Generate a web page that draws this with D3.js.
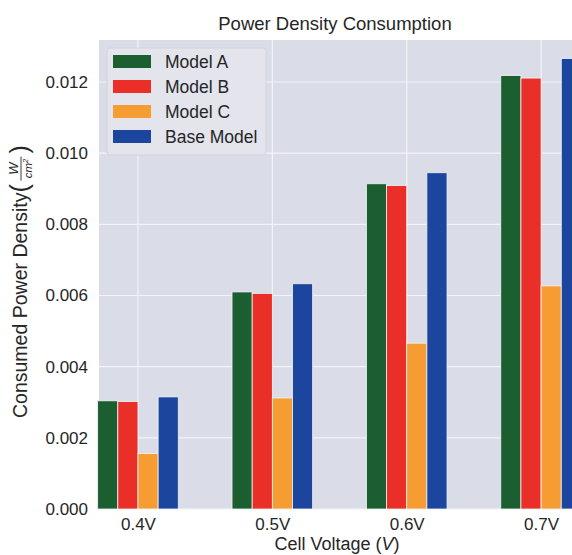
<!DOCTYPE html>
<html>
<head>
<meta charset="utf-8">
<script src="https://cdn.jsdelivr.net/npm/d3@7"></script>
<style>
  body { margin: 0; background: #fff; }
  svg text { font-family: "Liberation Sans", Arial, sans-serif; fill: #262626; }
</style>
</head>
<body>
<div class="visuals"></div>
<script>
// categories and series
const voltages = ["0.4V", "0.5V", "0.6V", "0.7V"];
const seriesNames = ["Model A", "Model B", "Model C", "Base Model"];
const modelA = [0.00304, 0.00610, 0.00914, 0.01218];
const modelB = [0.00302, 0.00606, 0.00909, 0.01211];
const modelC = [0.00156, 0.00312, 0.00466, 0.00627];
const baseModel = [0.00315, 0.00633, 0.00945, 0.01266];
const yTicks = [0, 0.002, 0.004, 0.006, 0.008, 0.010, 0.012];
const colors = ["#1b5e30", "#ea2e28", "#f59c33", "#1c469d"];

const allSeries = [modelA, modelB, modelC, baseModel];

let width = 572;
let height = 555;
const plotLeft = 99, plotTop = 40, plotBottom = 509, plotRight = 572;

const svg = d3.select(".visuals")
  .append("svg")
  .attr("width", width)
  .attr("height", height);

// x: category index -> centre (step ~134.5px, cropped at right edge)
const x = d3.scaleLinear().domain([-0.29, 3.23]).range([plotLeft, plotRight]);
const y = d3.scaleLinear().domain([0, 0.01318]).range([plotBottom, plotTop]);
const barW = x(0.15) - x(0);

svg.append("rect")
  .attr("x", plotLeft).attr("y", plotTop)
  .attr("width", plotRight - plotLeft).attr("height", plotBottom - plotTop)
  .attr("fill", "#dadce7");

// grid
svg.selectAll(".hgrid")
  .data(yTicks)
  .enter().append("line")
  .attr("x1", plotLeft).attr("x2", plotRight)
  .attr("y1", d => y(d)).attr("y2", d => y(d))
  .attr("stroke", "#f4f4f8").attr("stroke-width", 1.2);

svg.selectAll(".vgrid")
  .data(voltages)
  .enter().append("line")
  .attr("x1", (d, i) => x(i)).attr("x2", (d, i) => x(i))
  .attr("y1", plotTop).attr("y2", plotBottom)
  .attr("stroke", "#f4f4f8").attr("stroke-width", 1.2);

// bars
allSeries.forEach((vals, s) => {
  svg.selectAll(".bar" + s)
    .data(vals)
    .enter().append("rect")
    .attr("x", (d, i) => x(i) + (s - 2) * barW)
    .attr("y", d => y(d))
    .attr("width", barW)
    .attr("height", d => plotBottom - y(d))
    .attr("fill", colors[s])
    .attr("stroke", "#f4f4f8")
    .attr("stroke-width", 0.8);
});

// axes (no tick lines, seaborn style)
const yAxis = svg.append("g")
  .attr("transform", `translate(${plotLeft},0)`)
  .call(d3.axisLeft(y).tickValues(yTicks).tickFormat(d3.format(".3f")).tickSize(0).tickPadding(11));
yAxis.select(".domain").remove();
yAxis.selectAll("text").attr("font-size", 17).style("fill", "#262626");

const xAxis = svg.append("g")
  .attr("transform", `translate(0,${plotBottom})`)
  .call(d3.axisBottom(x).tickValues([0, 1, 2, 3]).tickFormat(i => voltages[i]).tickSize(0).tickPadding(9));
xAxis.select(".domain").remove();
xAxis.selectAll("text").attr("font-size", 17).style("fill", "#262626");

// title
svg.append("text")
  .attr("x", 335).attr("y", 30)
  .attr("text-anchor", "middle")
  .attr("font-size", 18.5)
  .text("Power Density Consumption");

// x label
const xl = svg.append("text")
  .attr("x", 337).attr("y", 550)
  .attr("text-anchor", "middle")
  .attr("font-size", 18);
xl.append("tspan").text("Cell Voltage (");
xl.append("tspan").attr("font-style", "italic").text("V");
xl.append("tspan").text(")");

// y label with fraction W / cm²
const yl = svg.append("g").attr("transform", "translate(27,418) rotate(-90)");
const ylMain = yl.append("text")
  .attr("x", 0).attr("y", 0)
  .attr("font-size", 19.5)
  .text("Consumed Power Density");
const L = ylMain.node().getComputedTextLength();
yl.append("text")
  .attr("x", L).attr("y", 1)
  .attr("font-size", 25).attr("font-weight", 200)
  .text("(");
yl.append("text")
  .attr("x", L + 24).attr("y", -9)
  .attr("text-anchor", "middle")
  .attr("font-size", 13).attr("font-style", "italic")
  .text("W");
yl.append("line")
  .attr("x1", L + 12).attr("x2", L + 36)
  .attr("y1", -6).attr("y2", -6)
  .attr("stroke", "#262626").attr("stroke-width", 0.9);
const cm = yl.append("text")
  .attr("x", L + 24).attr("y", 5)
  .attr("text-anchor", "middle")
  .attr("font-size", 11.5).attr("font-style", "italic");
cm.append("tspan").text("cm");
cm.append("tspan").attr("font-size", 7.5).attr("dy", -4).text("2");
yl.append("text")
  .attr("x", L + 39).attr("y", 1)
  .attr("font-size", 25).attr("font-weight", 200)
  .text(")");

// legend
const lg = svg.append("g").attr("transform", "translate(107,48)");
lg.append("rect")
  .attr("width", 159).attr("height", 107)
  .attr("rx", 3)
  .attr("fill", "#e3e4ec").attr("stroke", "#cfd0d8").attr("stroke-width", 0.8);
seriesNames.forEach((name, i) => {
  lg.append("rect")
    .attr("x", 6).attr("y", 7 + i * 25)
    .attr("width", 38).attr("height", 13)
    .attr("fill", colors[i]);
  lg.append("text")
    .attr("x", 58).attr("y", 20 + i * 25)
    .attr("font-size", 17.5)
    .text(name);
});
</script>
</body>
</html>
